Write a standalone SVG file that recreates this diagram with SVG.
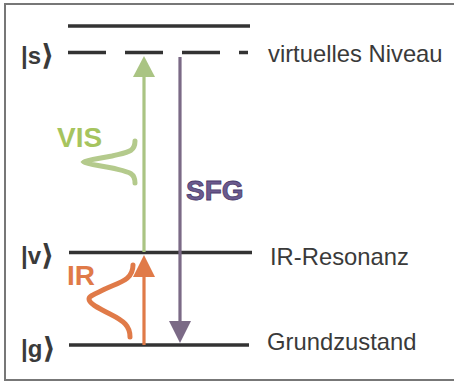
<svg xmlns="http://www.w3.org/2000/svg" width="454" height="381" viewBox="0 0 454 381">
<style>
.lvl{stroke:#333;stroke-width:3.5;fill:none}
.lab{font-family:"Liberation Sans","DejaVu Sans",sans-serif;font-size:23.8px;fill:#3a3a3a}
.ket{font-family:"Liberation Sans","DejaVu Sans",sans-serif;font-size:24px;font-weight:bold;fill:#3a3a3a}
.br{font-family:"DejaVu Sans",sans-serif;font-size:29px;font-weight:bold}
.big{font-family:"Liberation Sans",Arial,sans-serif;font-size:28px;font-weight:bold}
</style>
<defs>
<marker id="hg" markerUnits="userSpaceOnUse" markerWidth="22" markerHeight="22" refX="0" refY="11" orient="auto" viewBox="0 0 22 22"><path d="M0,0 L21,11 L0,22 z" fill="#aac483"/></marker>
<marker id="ho" markerUnits="userSpaceOnUse" markerWidth="22" markerHeight="22" refX="0" refY="11" orient="auto" viewBox="0 0 22 22"><path d="M0,0 L22,11 L0,22 z" fill="#e07a48"/></marker>
<marker id="hp" markerUnits="userSpaceOnUse" markerWidth="22" markerHeight="22" refX="0" refY="11" orient="auto" viewBox="0 0 22 22"><path d="M0,0 L22,11 L0,22 z" fill="#7b6a86"/></marker>
</defs>
<rect x="5" y="4" width="470" height="376" fill="#fff" stroke="#777" stroke-width="2"/>
<g id="level-top"><line class="lvl" x1="68" y1="26" x2="250" y2="26"/></g>
<g id="level-s">
<line class="lvl" x1="68" y1="52.5" x2="248" y2="52.5" stroke-dasharray="38 19"/>
<text class="ket" x="21" y="64">|s<tspan class="br" dy="1">⟩</tspan></text>
<text class="lab" x="268" y="62">virtuelles Niveau</text>
</g>
<g id="level-v">
<line class="lvl" x1="69" y1="252.5" x2="252" y2="252.5"/>
<text class="ket" x="21" y="264">|v<tspan class="br" dy="1">⟩</tspan></text>
<text class="lab" x="270" y="265">IR-Resonanz</text>
</g>
<g id="level-g">
<line class="lvl" x1="69" y1="345" x2="249" y2="345"/>
<text class="ket" x="21" y="357">|g<tspan class="br" dy="1">⟩</tspan></text>
<text class="lab" x="267" y="350">Grundzustand</text>
</g>
<g id="connectors">
<line x1="144" y1="252" x2="144" y2="77" stroke="#aac483" stroke-width="3.2" marker-end="url(#hg)"/>
<line x1="144" y1="345" x2="144" y2="277" stroke="#e07a48" stroke-width="3.2" marker-end="url(#ho)"/>
<line x1="180" y1="57" x2="180" y2="321" stroke="#7b6a86" stroke-width="3.2" marker-end="url(#hp)"/>
</g>
<g id="vis">
<path d="M135,141 C135,152 128,152 112,156 C96,159 86,160 84,162 C86,164 96,165 112,168 C128,172 135,172 135,183" fill="none" stroke="#b4ca8c" stroke-width="5" stroke-linecap="round"/>
<text class="big" x="57" y="147" fill="#a6c45e">VIS</text>
</g>
<g id="ir">
<path d="M133,265 C133,280 120,282 105,289 C95,294 89,296 89,299 C89,303 96,307 110,314 C124,321 130,326 130,337" fill="none" stroke="#e07a48" stroke-width="5" stroke-linecap="round"/>
<text class="big" x="67" y="285" fill="#e07a48">IR</text>
</g>
<g id="sfg">
<text class="big" x="186" y="200" fill="#6b5a8e" stroke="#4a3b6b" stroke-width="0.8">SFG</text>
</g>
</svg>
